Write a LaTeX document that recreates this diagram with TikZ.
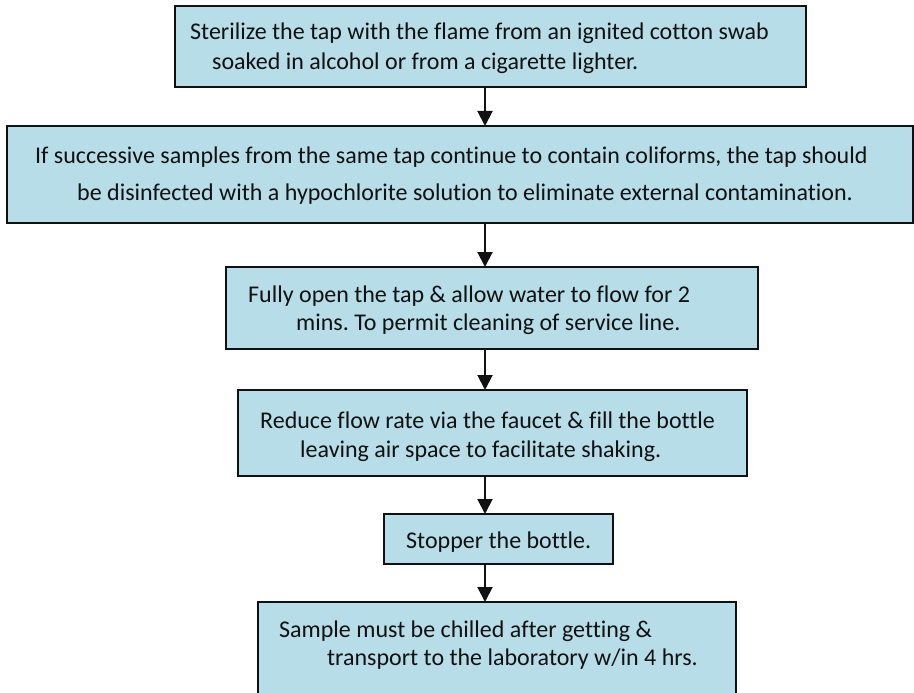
\documentclass[tikz,border=0pt]{standalone}
\usepackage{fontspec}
\setmainfont{Carlito}[Ligatures=NoCommon]
\usetikzlibrary{arrows.meta}
\definecolor{boxfill}{HTML}{B7DDE8}
\definecolor{ink}{HTML}{111111}
\frenchspacing
\begin{document}
\begin{tikzpicture}[x=1pt,y=-1pt,
  stepbox/.style={draw=ink, line width=1.8pt, fill=boxfill, rectangle, inner sep=0pt, outer sep=0pt},
  txt/.style={anchor=base west, inner sep=0pt, font=\fontsize{24pt}{29pt}\selectfont, text=ink},
  flow/.style={draw=ink, line width=2pt, -{Triangle[width=15pt,length=15pt]}}]
\useasboundingbox (0,0) rectangle (914,693);
\clip (0,0) rectangle (914,693);
\fill[white] (0,0) rectangle (914,693);

% column of the connecting arrows
\coordinate (col) at (485,0);

% step boxes
\node[stepbox, minimum width=631pt, minimum height=81pt] (s1) at (490.5,46.5) {};
\node[stepbox, minimum width=906pt, minimum height=97pt] (s2) at (460,174.5) {};
\node[stepbox, minimum width=532pt, minimum height=82pt] (s3) at (492,308) {};
\node[stepbox, minimum width=509pt, minimum height=86pt] (s4) at (492.5,433) {};
\node[stepbox, minimum width=229pt, minimum height=50pt] (s5) at (498.5,539) {};
\node[stepbox, minimum width=478pt, minimum height=118pt] (s6) at (497,661) {};

% step texts
\node[txt] (t1a) at (190,40) {Sterilize the tap with the flame from an ignited cotton swab};
\node[txt] (t1b) at (212,70) {soaked in alcohol or from a cigarette lighter.};
\node[txt] (t2a) at (35,164) {If successive samples from the same tap continue to contain coliforms, the tap should};
\node[txt] (t2b) at (77,200) {be disinfected with a hypochlorite solution to eliminate external contamination.};
\node[txt] (t3a) at (248,302) {Fully open the tap \& allow water to flow for 2};
\node[txt] (t3b) at (296,330) {mins. To permit cleaning of service line.};
\node[txt] (t4a) at (260,428) {Reduce flow rate via the faucet \& fill the bottle};
\node[txt] (t4b) at (300,457) {leaving air space to facilitate shaking.};
\node[txt] (t5) at (406,548) {Stopper the bottle.};
\node[txt] (t6a) at (279,637) {Sample must be chilled after getting \&};
\node[txt] (t6b) at (327,665) {transport to the laboratory w/in 4 hrs.};

% connectors
\draw[flow] (s1.south -| col) -- (s2.north -| col);
\draw[flow] (s2.south -| col) -- (s3.north -| col);
\draw[flow] (s3.south -| col) -- (s4.north -| col);
\draw[flow] (s4.south -| col) -- (s5.north -| col);
\draw[flow] (s5.south -| col) -- (s6.north -| col);
\end{tikzpicture}
\end{document}
